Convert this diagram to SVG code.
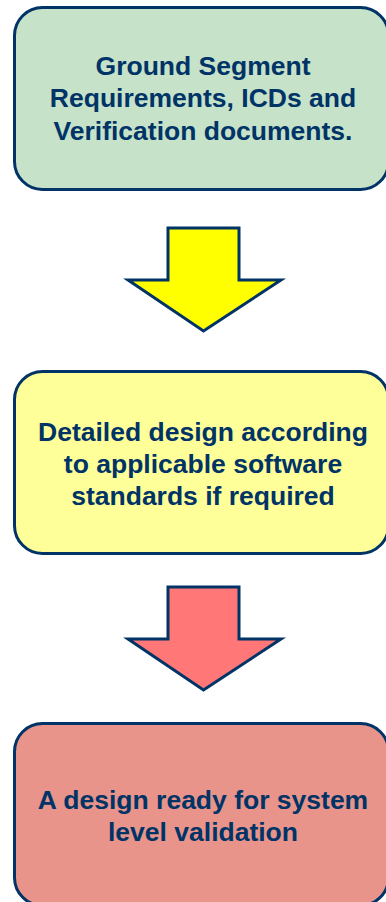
<svg xmlns="http://www.w3.org/2000/svg" width="386" height="902" viewBox="0 0 386 902">
<style>
.box{stroke:#003366;stroke-width:3}
.arrow{stroke:#003366;stroke-width:3;stroke-linejoin:miter}
.t{font-family:"Liberation Sans",Arial,sans-serif;font-weight:bold;font-size:26.5px;fill:#003366;text-anchor:middle}
</style>
<rect width="386" height="902" fill="#ffffff"/>
<g id="node1">
<rect class="box" x="14.5" y="7.5" width="374" height="182" rx="28" fill="#C6E2C9"/>
<text class="t" x="203" y="75">Ground Segment</text>
<text class="t" x="203" y="107">Requirements, ICDs and</text>
<text class="t" x="203" y="140">Verification documents.</text>
</g>
<g id="node2">
<rect class="box" x="14.5" y="371.5" width="374" height="182" rx="28" fill="#FFFF99"/>
<text class="t" x="203" y="441">Detailed design according</text>
<text class="t" x="203" y="473">to applicable software</text>
<text class="t" x="203" y="505">standards if required</text>
</g>
<g id="node3">
<rect class="box" x="14.5" y="723.5" width="374" height="182" rx="28" fill="#E8948A"/>
<text class="t" x="203" y="809">A design ready for system</text>
<text class="t" x="203" y="841">level validation</text>
</g>
<g id="connectors">
<path class="arrow" fill="#FFFF00" d="M168,228 H239 V280 H281 L203.5,331 L128,280 H168 Z"/>
<path class="arrow" fill="#FF7777" d="M168,587 H239 V639 H281 L203.5,690 L128,639 H168 Z"/>
</g>
</svg>
